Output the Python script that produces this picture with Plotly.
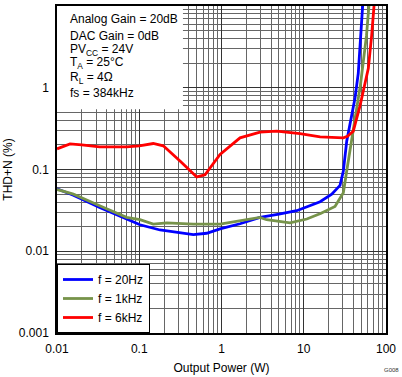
import plotly.graph_objects as go

# ---- data ----
power_20 = [0.01, 0.0158, 0.033, 0.07, 0.102, 0.179, 0.30, 0.454, 0.66, 0.96, 1.68, 2.94, 5.0, 8.2, 15.8, 21.9, 27.6, 30.3, 33.3, 38.0, 42.0, 46.0, 48.3, 52.0]
thd_20 = [0.058, 0.0485, 0.0344, 0.0248, 0.0211, 0.0182, 0.0170, 0.0160, 0.0166, 0.0188, 0.0217, 0.0260, 0.0285, 0.0313, 0.0403, 0.050, 0.064, 0.096, 0.222, 0.45, 0.75, 1.50, 3.6, 10.0]

power_1k = [0.01, 0.0158, 0.033, 0.07, 0.102, 0.148, 0.216, 0.454, 0.96, 1.68, 2.94, 3.54, 6.8, 10.9, 16.0, 24.0, 30.3, 33.3, 38.3, 49.0, 58.0, 62.0]
thd_1k = [0.057, 0.050, 0.036, 0.026, 0.0243, 0.0215, 0.0223, 0.0215, 0.0215, 0.0239, 0.0260, 0.0243, 0.0222, 0.0248, 0.0290, 0.0353, 0.052, 0.096, 0.222, 1.10, 4.4, 10.0]

power_6k = [0.01, 0.0144, 0.02, 0.033, 0.07, 0.10, 0.148, 0.196, 0.313, 0.5, 0.63, 0.96, 1.68, 2.94, 4.69, 9.0, 15.8, 25.0, 30.3, 34.0, 40.0, 48.3, 58.0, 61.0, 67.0, 71.5]
thd_6k = [0.179, 0.206, 0.200, 0.189, 0.189, 0.195, 0.208, 0.195, 0.127, 0.081, 0.086, 0.153, 0.244, 0.286, 0.294, 0.275, 0.250, 0.244, 0.244, 0.255, 0.294, 0.60, 1.30, 1.73, 4.4, 10.0]

series_names = ["f = 20Hz", "f = 1kHz", "f = 6kHz"]
series_colors = ["#0000FF", "#77934A", "#FF0000"]

x_tickvals = [0.01, 0.1, 1, 10, 100]
x_ticktext = ["0.01", "0.1", "1", "10", "100"]
y_tickvals = [0.001, 0.01, 0.1, 1, 10]
y_ticktext = ["0.001", "0.01", "0.1", "1", "10"]

cond_lines = ["Analog Gain = 20dB", "DAC Gain = 0dB", "PV<sub>CC</sub> = 24V",
              "T<sub>A</sub> = 25°C", "R<sub>L</sub> = 4Ω", "fs = 384kHz"]

FONT = "Liberation Sans, Arial, sans-serif"

fig = go.Figure()
for xs, ys, name, col in zip([power_20, power_1k, power_6k], [thd_20, thd_1k, thd_6k],
                             series_names, series_colors):
    fig.add_trace(go.Scatter(x=xs, y=ys, mode="lines", name=name,
                             line=dict(color=col, width=2.8)))

W, H = 402, 377
L, R, T, B = 57, 16, 4, 44
pw, ph = W - L - R, H - T - B

def py(ypix):
    return (H - B - ypix) / ph

def px(xpix):
    return (xpix - L) / pw

axis_common = dict(type="log", showline=True, linecolor="black", linewidth=1.5, mirror=True,
                   showgrid=True, gridcolor="#333333", gridwidth=1,
                   ticks="outside", ticklen=4, tickcolor="rgba(0,0,0,0)",
                   tickfont=dict(family=FONT, size=12, color="black"),
                   minor=dict(showgrid=True, gridcolor="#666666", gridwidth=1, dtick="D1"),
                   zeroline=False)

fig.update_xaxes(range=[-2, 2], tickvals=x_tickvals, ticktext=x_ticktext,
                 title=dict(text="Output Power (W)", font=dict(family=FONT, size=12, color="black"), standoff=8),
                 **axis_common)
fig.update_yaxes(range=[-3, 1], tickvals=y_tickvals, ticktext=y_ticktext,
                 title=dict(text="THD+N (%)", font=dict(family=FONT, size=12, color="black"), standoff=4),
                 **axis_common)

# white box behind the conditions text (above grid, below traces)
fig.add_shape(type="rect", xref="x", yref="y",
              x0=0.01, x1=0.34, y0=0.545, y1=10,
              fillcolor="white", line=dict(width=0), layer="between")

ycent = [17.3, 34.3, 48.3, 61.7, 76.7, 91.7]
for txt, yc in zip(cond_lines, ycent):
    fig.add_annotation(text=txt, xref="paper", yref="paper", x=px(68), y=py(yc),
                       xanchor="left", yanchor="middle", showarrow=False,
                       font=dict(family=FONT, size=12, color="black"))

fig.add_annotation(text="G008", xref="paper", yref="paper", x=px(401), y=py(370),
                   xanchor="right", yanchor="middle", showarrow=False,
                   font=dict(family=FONT, size=6, color="#333333"))

fig.update_layout(width=W, height=H, margin=dict(l=L, r=R, t=T, b=B),
                  paper_bgcolor="white", plot_bgcolor="white",
                  showlegend=True,
                  legend=dict(x=0, y=0, xanchor="left", yanchor="bottom",
                              bgcolor="white", bordercolor="black", borderwidth=1,
                              font=dict(family=FONT, size=12, color="black"),
                              tracegroupgap=0, itemwidth=30))

fig.write_html("out.html", config={"displayModeBar": False},
               post_script="document.body.style.margin='0px';document.body.style.overflow='hidden';")
